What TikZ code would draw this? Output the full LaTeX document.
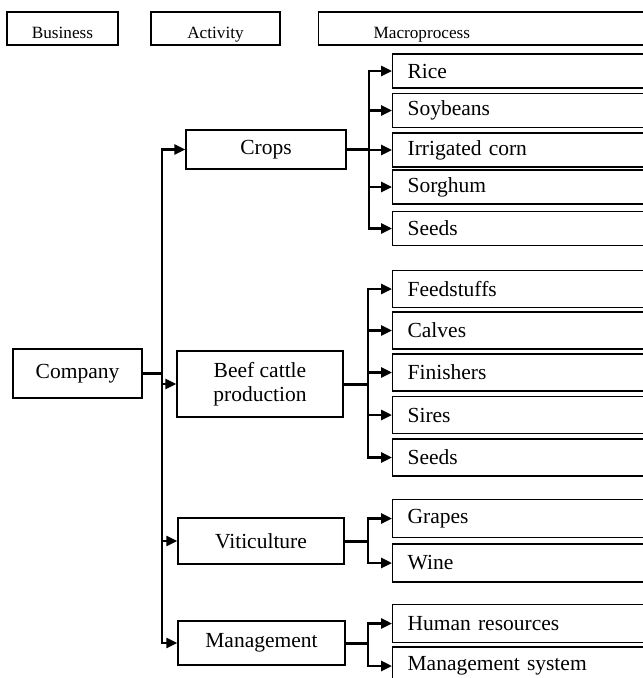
\documentclass[tikz,border=0pt]{standalone}
\usepackage{fontspec}
\setmainfont{Liberation Serif}
\usetikzlibrary{arrows.meta}
\begin{document}
\begin{tikzpicture}[x=1pt,y=-1pt,
	box/.style={draw,line width=1.2pt,inner sep=0pt,font=\fontsize{21.5}{24}\selectfont,align=center},
	head/.style={draw,line width=1.2pt,inner sep=0pt,minimum height=33pt,text height=19pt,text depth=0pt,font=\fontsize{17.2}{20}\selectfont},
	mbox/.style={draw,line width=1.2pt,anchor=west,inner xsep=15pt,inner ysep=0pt,text width=238pt,align=left,font=\fontsize{21.5}{24}\selectfont},
	link/.style={line width=3pt},
	arr/.style={line width=2.6pt,-{Triangle[length=11pt,width=10pt]}}
	]
	\useasboundingbox (0,0) rectangle (643,678);
	\clip (0,0) rectangle (643,678);
	\node[head,minimum width=111pt] (hbus) at (62.5,28.5) {Business};
	\node[head,minimum width=129pt] (hact) at (215.5,28.5) {Activity};
	\node[head,anchor=west,inner xsep=55pt,text width=232pt,align=left] (hmac) at (318,28.5) {Macroprocess};
	\node[box,minimum width=129pt,minimum height=49pt] (company) at (77.5,373.5) {Company};
	\node[box,minimum width=160pt,minimum height=39pt] (crops) at (266,149.5) {Crops};
	\node[box,minimum width=166pt,minimum height=66pt] (beef) at (260,384) {Beef cattle\\production};
	\node[box,minimum width=166pt,minimum height=46pt] (viti) at (261,541) {Viticulture};
	\node[box,minimum width=167pt,minimum height=44pt] (mgmt) at (261.5,643) {Management};
	\begin{scope}[every node/.style={mbox,minimum height=34pt}]
	\node (rice) at (392,71) {Rice};
	\node (soy) at (392,110.5) {Soybeans};
	\node (corn) at (392,150) {Irrigated corn};
	\node (sorghum) at (392,187) {Sorghum};
	\node (seedsa) at (392,228.5) {Seeds};
	\end{scope}
	\begin{scope}[every node/.style={mbox,minimum height=37pt}]
	\node (feed) at (392,289) {Feedstuffs};
	\node (calves) at (392,330.5) {Calves};
	\node (fin) at (392,372.5) {Finishers};
	\node (sires) at (392,415) {Sires};
	\node (seedsb) at (392,457.5) {Seeds};
	\end{scope}
	\begin{scope}[every node/.style={mbox,minimum height=38pt}]
	\node (grapes) at (392,518.5) {Grapes};
	\node (wine) at (392,563) {Wine};
	\node (hr) at (392,623.5) {Human resources};
	\node (msys) at (392,666) {Management system};
	\end{scope}
	\draw[link] (company.east) -- (162,373.5) coordinate (jco);
	\foreach \a in {crops,beef,viti,mgmt}
		\draw[arr] (jco) |- (\a.west);
	\coordinate (jcr) at (369,149.5);
	\coordinate (jbe) at (368,384);
	\coordinate (jvi) at (368,541);
	\coordinate (jmg) at (368,643);
	\draw[link] (crops.east) -- (jcr);
	\draw[link] (beef.east) -- (jbe);
	\draw[link] (viti.east) -- (jvi);
	\draw[link] (mgmt.east) -- (jmg);
	\foreach \m in {rice,soy,corn,sorghum,seedsa}
		\draw[arr] (jcr) |- (\m.west);
	\foreach \m in {feed,calves,fin,sires,seedsb}
		\draw[arr] (jbe) |- (\m.west);
	\foreach \m in {grapes,wine}
		\draw[arr] (jvi) |- (\m.west);
	\foreach \m in {hr,msys}
		\draw[arr] (jmg) |- (\m.west);
\end{tikzpicture}
\end{document}
